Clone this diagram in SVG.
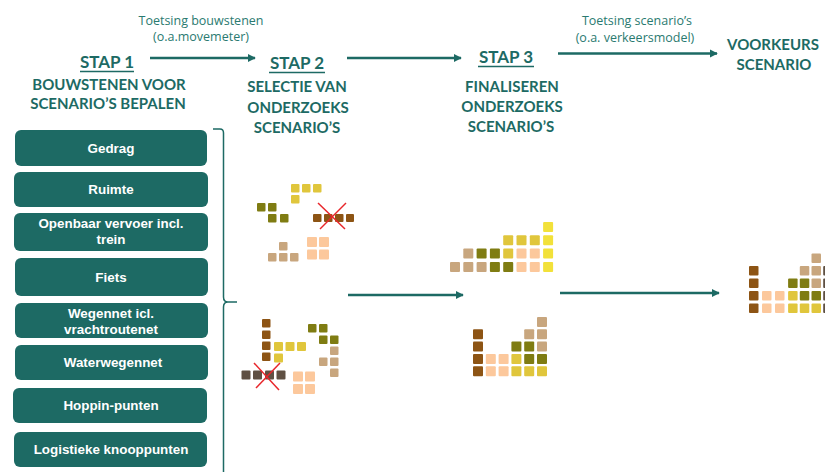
<svg xmlns="http://www.w3.org/2000/svg" width="825" height="472" viewBox="0 0 825 472">
<defs>
<marker id="ah" viewBox="0 0 10 10" refX="9" refY="5" markerWidth="3.2" markerHeight="3.2" orient="auto" markerUnits="strokeWidth">
<path d="M0,0 L10,5 L0,10 z" fill="#1d6a64"/>
</marker>
<style>
.h{font-family:Lato,"Open Sans","Liberation Sans",sans-serif;font-weight:700;fill:#1d6a64;text-anchor:middle}
.st{font-size:17px}
.sub{font-size:15px}
.t{font-family:"Open Sans",Lato,"Liberation Sans",sans-serif;font-size:12.5px;fill:#2a7a70;text-anchor:middle}
.box rect{fill:#1d6a64}
.box text{font-family:"Liberation Sans",Arial,sans-serif;font-weight:700;font-size:13.4px;fill:#ffffff;text-anchor:middle}
.ul{stroke:#1d6a64;stroke-width:1.5}
.ar{stroke:#1d6a64;stroke-width:2.6;fill:none;marker-end:url(#ah)}
.y{fill:#e0c63c}.by{fill:#f2e13a}.o{fill:#7f7c12}.b{fill:#8d5414}.tn{fill:#c8a67e}.p{fill:#fcc89c}.d{fill:#5f5043}
.x{stroke:#e8262b;stroke-width:1.5}
</style>
</defs>
<rect width="825" height="472" fill="#ffffff"/>

<!-- headers -->
<g id="stap1">
<text class="h st" x="107" y="68">STAP 1</text>
<line class="ul" x1="80" y1="71.5" x2="134" y2="71.5"/>
<text class="h sub" x="109" y="90">BOUWSTENEN VOOR</text>
<text class="h sub" x="108" y="109">SCENARIO’S BEPALEN</text>
</g>
<g id="stap2">
<text class="h st" x="297" y="69">STAP 2</text>
<line class="ul" x1="269" y1="72.5" x2="325" y2="72.5"/>
<text class="h sub" x="297" y="92">SELECTIE VAN</text>
<text class="h sub" x="298" y="113">ONDERZOEKS</text>
<text class="h sub" x="297" y="133">SCENARIO’S</text>
</g>
<g id="stap3">
<text class="h st" x="506" y="63">STAP 3</text>
<line class="ul" x1="478" y1="66.5" x2="534" y2="66.5"/>
<text class="h sub" x="512" y="92">FINALISEREN</text>
<text class="h sub" x="512" y="112">ONDERZOEKS</text>
<text class="h sub" x="511" y="132">SCENARIO’S</text>
</g>
<g id="voorkeur">
<text class="h sub" x="773" y="50">VOORKEURS</text>
<text class="h sub" x="774" y="70">SCENARIO</text>
</g>

<!-- connectors -->
<g id="connectors">
<line class="ar" x1="150" y1="58" x2="255" y2="58"/>
<line class="ar" x1="347" y1="58" x2="461" y2="58"/>
<line class="ar" x1="558" y1="53.5" x2="717" y2="53.5"/>
<line class="ar" x1="348" y1="295" x2="463" y2="295"/>
<line class="ar" x1="560" y1="293" x2="719" y2="293"/>
<path d="M213,129 L220,129 Q223.5,129 223.5,133 L223.5,297 Q223.5,302 228,302 L237,302 M228,302 Q223.5,302 223.5,307 L223.5,472" fill="none" stroke="#1d6a64" stroke-width="1.5"/>
<text class="t" x="201" y="25">Toetsing bouwstenen</text>
<text class="t" x="201" y="41">(o.a.movemeter)</text>
<text class="t" x="637" y="25">Toetsing scenario’s</text>
<text class="t" x="635" y="42">(o.a. verkeersmodel)</text>
</g>

<!-- building blocks -->
<g id="b1" class="box"><rect x="15" y="130" width="192" height="36" rx="6"/><text x="111" y="153">Gedrag</text></g>
<g id="b2" class="box"><rect x="14" y="172" width="194" height="35" rx="6"/><text x="111" y="194">Ruimte</text></g>
<g id="b3" class="box"><rect x="14" y="213" width="194" height="38" rx="6"/><text x="111" y="228">Openbaar vervoer incl.</text><text x="111" y="244">trein</text></g>
<g id="b4" class="box"><rect x="15" y="258" width="193" height="38" rx="6"/><text x="111" y="282">Fiets</text></g>
<g id="b5" class="box"><rect x="15" y="303" width="193" height="35" rx="6"/><text x="111" y="318">Wegennet icl.</text><text x="111" y="334">vrachtroutenet</text></g>
<g id="b6" class="box"><rect x="15" y="345" width="193" height="35" rx="6"/><text x="113" y="367">Waterwegennet</text></g>
<g id="b7" class="box"><rect x="13" y="388" width="194" height="35" rx="6"/><text x="111" y="410">Hoppin-punten</text></g>
<g id="b8" class="box"><rect x="14" y="432" width="193" height="35" rx="6"/><text x="111" y="454">Logistieke knooppunten</text></g>

<!-- cluster 1 -->
<g id="cluster1">
<rect class="y" x="291" y="184" width="8.5" height="8.5" rx="1"/>
<rect class="y" x="302" y="184" width="8.5" height="8.5" rx="1"/>
<rect class="y" x="313" y="184" width="8.5" height="8.5" rx="1"/>
<rect class="y" x="291" y="195" width="8.5" height="8.5" rx="1"/>
<rect class="o" x="257" y="203" width="8.5" height="8.5" rx="1"/>
<rect class="o" x="268" y="203" width="8.5" height="8.5" rx="1"/>
<rect class="o" x="268" y="214" width="8.5" height="8.5" rx="1"/>
<rect class="o" x="280" y="214" width="8.5" height="8.5" rx="1"/>
<rect class="b" x="313" y="214" width="8.5" height="8" rx="1"/>
<rect class="b" x="324" y="214" width="8.5" height="8" rx="1"/>
<rect class="b" x="335" y="214" width="8.5" height="8" rx="1"/>
<rect class="b" x="346" y="214" width="8" height="8" rx="1"/>
<line class="x" x1="318" y1="203" x2="345" y2="229"/>
<line class="x" x1="346" y1="203" x2="320" y2="229"/>
<rect class="tn" x="279" y="242" width="8.5" height="8.5" rx="1"/>
<rect class="tn" x="268" y="253" width="8.5" height="8.5" rx="1"/>
<rect class="tn" x="279" y="253" width="8.5" height="8.5" rx="1"/>
<rect class="tn" x="290" y="253" width="8.5" height="8.5" rx="1"/>
<rect class="p" x="307" y="237" width="10" height="10" rx="1"/>
<rect class="p" x="319" y="237" width="10" height="10" rx="1"/>
<rect class="p" x="307" y="249.5" width="10" height="10" rx="1"/>
<rect class="p" x="319" y="249.5" width="10" height="10" rx="1"/>
</g>

<!-- cluster 2 -->
<g id="cluster2">
<rect class="b" x="262" y="319" width="8.5" height="8.5" rx="1"/>
<rect class="b" x="262" y="330.5" width="8.5" height="8.5" rx="1"/>
<rect class="b" x="262" y="341.5" width="8.5" height="8.5" rx="1"/>
<rect class="b" x="262" y="352.5" width="8.5" height="8.5" rx="1"/>
<rect class="y" x="274" y="342" width="9" height="9" rx="1"/>
<rect class="y" x="285.5" y="342" width="9" height="9" rx="1"/>
<rect class="y" x="297" y="342" width="9" height="9" rx="1"/>
<rect class="y" x="274" y="353.5" width="9" height="9" rx="1"/>
<rect class="o" x="308" y="324" width="8.5" height="8.5" rx="1"/>
<rect class="o" x="319" y="324" width="8.5" height="8.5" rx="1"/>
<rect class="o" x="319" y="335.5" width="8.5" height="8.5" rx="1"/>
<rect class="o" x="330" y="335.5" width="8.5" height="8.5" rx="1"/>
<rect class="tn" x="330" y="346.5" width="8.5" height="8.5" rx="1"/>
<rect class="tn" x="319" y="357.5" width="8.5" height="8.5" rx="1"/>
<rect class="tn" x="330" y="357.5" width="8.5" height="8.5" rx="1"/>
<rect class="tn" x="330" y="368.5" width="8.5" height="8.5" rx="1"/>
<rect class="d" x="241.5" y="370.5" width="9" height="9" rx="1"/>
<rect class="d" x="253" y="370.5" width="9" height="9" rx="1"/>
<rect class="d" x="265" y="370.5" width="9" height="9" rx="1"/>
<rect class="d" x="276.5" y="370.5" width="9" height="9" rx="1"/>
<line class="x" x1="254" y1="363" x2="279" y2="390"/>
<line class="x" x1="280" y1="363" x2="256" y2="388"/>
<rect class="p" x="293" y="371.5" width="10" height="10" rx="1"/>
<rect class="p" x="305" y="371.5" width="10" height="10" rx="1"/>
<rect class="p" x="293" y="384" width="10" height="10" rx="1"/>
<rect class="p" x="305" y="384" width="10" height="10" rx="1"/>
</g>

<!-- cluster 3 -->
<g id="cluster3">
<rect class="by" x="543.1" y="222" width="10" height="10" rx="1"/>
<rect class="y" x="503.2" y="235.3" width="10" height="10" rx="1"/>
<rect class="y" x="516.5" y="235.3" width="10" height="10" rx="1"/>
<rect class="y" x="529.8" y="235.3" width="10" height="10" rx="1"/>
<rect class="by" x="543.1" y="235.3" width="10" height="10" rx="1"/>
<rect class="tn" x="463.3" y="248.6" width="10" height="10" rx="1"/>
<rect class="o" x="476.6" y="248.6" width="10" height="10" rx="1"/>
<rect class="o" x="489.9" y="248.6" width="10" height="10" rx="1"/>
<rect class="y" x="503.2" y="248.6" width="10" height="10" rx="1"/>
<rect class="p" x="516.5" y="248.6" width="10" height="10" rx="1"/>
<rect class="p" x="529.8" y="248.6" width="10" height="10" rx="1"/>
<rect class="by" x="543.1" y="248.6" width="10" height="10" rx="1"/>
<rect class="tn" x="450" y="261.9" width="10" height="10" rx="1"/>
<rect class="tn" x="463.3" y="261.9" width="10" height="10" rx="1"/>
<rect class="tn" x="476.6" y="261.9" width="10" height="10" rx="1"/>
<rect class="o" x="489.9" y="261.9" width="10" height="10" rx="1"/>
<rect class="o" x="503.2" y="261.9" width="10" height="10" rx="1"/>
<rect class="p" x="516.5" y="261.9" width="10" height="10" rx="1"/>
<rect class="p" x="529.8" y="261.9" width="10" height="10" rx="1"/>
<rect class="by" x="543.1" y="261.9" width="10" height="10" rx="1"/>
</g>

<!-- cluster 4 -->
<g id="cluster4">
<rect class="tn" x="537" y="317" width="10" height="10" rx="1"/>
<rect class="b" x="473" y="329.3" width="10" height="10" rx="1"/>
<rect class="tn" x="524.2" y="329.3" width="10" height="10" rx="1"/>
<rect class="tn" x="537" y="329.3" width="10" height="10" rx="1"/>
<rect class="b" x="473" y="341.6" width="10" height="10" rx="1"/>
<rect class="o" x="511.4" y="341.6" width="10" height="10" rx="1"/>
<rect class="o" x="524.2" y="341.6" width="10" height="10" rx="1"/>
<rect class="tn" x="537" y="341.6" width="10" height="10" rx="1"/>
<rect class="b" x="473" y="353.9" width="10" height="10" rx="1"/>
<rect class="p" x="485.8" y="353.9" width="10" height="10" rx="1"/>
<rect class="p" x="498.6" y="353.9" width="10" height="10" rx="1"/>
<rect class="y" x="511.4" y="353.9" width="10" height="10" rx="1"/>
<rect class="o" x="524.2" y="353.9" width="10" height="10" rx="1"/>
<rect class="o" x="537" y="353.9" width="10" height="10" rx="1"/>
<rect class="b" x="473" y="366.2" width="10" height="10" rx="1"/>
<rect class="p" x="485.8" y="366.2" width="10" height="10" rx="1"/>
<rect class="p" x="498.6" y="366.2" width="10" height="10" rx="1"/>
<rect class="y" x="511.4" y="366.2" width="10" height="10" rx="1"/>
<rect class="y" x="524.2" y="366.2" width="10" height="10" rx="1"/>
<rect class="y" x="537" y="366.2" width="10" height="10" rx="1"/>
</g>

<!-- cluster 5 -->
<g id="cluster5">
<rect class="tn" x="811.5" y="253.5" width="9.5" height="9.5" rx="1"/>
<rect class="b" x="749" y="266" width="9.5" height="9.5" rx="1"/>
<rect class="tn" x="799.8" y="266" width="9.5" height="9.5" rx="1"/>
<rect class="tn" x="811.5" y="266" width="9.5" height="9.5" rx="1"/>
<rect class="d" x="823.2" y="266" width="9.5" height="9.5" rx="1"/>
<rect class="b" x="749" y="278.5" width="9.5" height="9.5" rx="1"/>
<rect class="o" x="788.1" y="278.5" width="9.5" height="9.5" rx="1"/>
<rect class="o" x="799.8" y="278.5" width="9.5" height="9.5" rx="1"/>
<rect class="tn" x="811.5" y="278.5" width="9.5" height="9.5" rx="1"/>
<rect class="d" x="823.2" y="278.5" width="9.5" height="9.5" rx="1"/>
<rect class="b" x="749" y="291" width="9.5" height="9.5" rx="1"/>
<rect class="p" x="762" y="291" width="9.5" height="9.5" rx="1"/>
<rect class="p" x="775" y="291" width="9.5" height="9.5" rx="1"/>
<rect class="y" x="788.1" y="291" width="9.5" height="9.5" rx="1"/>
<rect class="o" x="799.8" y="291" width="9.5" height="9.5" rx="1"/>
<rect class="o" x="811.5" y="291" width="9.5" height="9.5" rx="1"/>
<rect class="d" x="823.2" y="291" width="9.5" height="9.5" rx="1"/>
<rect class="b" x="749" y="303.5" width="9.5" height="9.5" rx="1"/>
<rect class="p" x="762" y="303.5" width="9.5" height="9.5" rx="1"/>
<rect class="p" x="775" y="303.5" width="9.5" height="9.5" rx="1"/>
<rect class="y" x="788.1" y="303.5" width="9.5" height="9.5" rx="1"/>
<rect class="y" x="799.8" y="303.5" width="9.5" height="9.5" rx="1"/>
<rect class="y" x="811.5" y="303.5" width="9.5" height="9.5" rx="1"/>
<rect class="d" x="823.2" y="303.5" width="9.5" height="9.5" rx="1"/>
</g>
</svg>
